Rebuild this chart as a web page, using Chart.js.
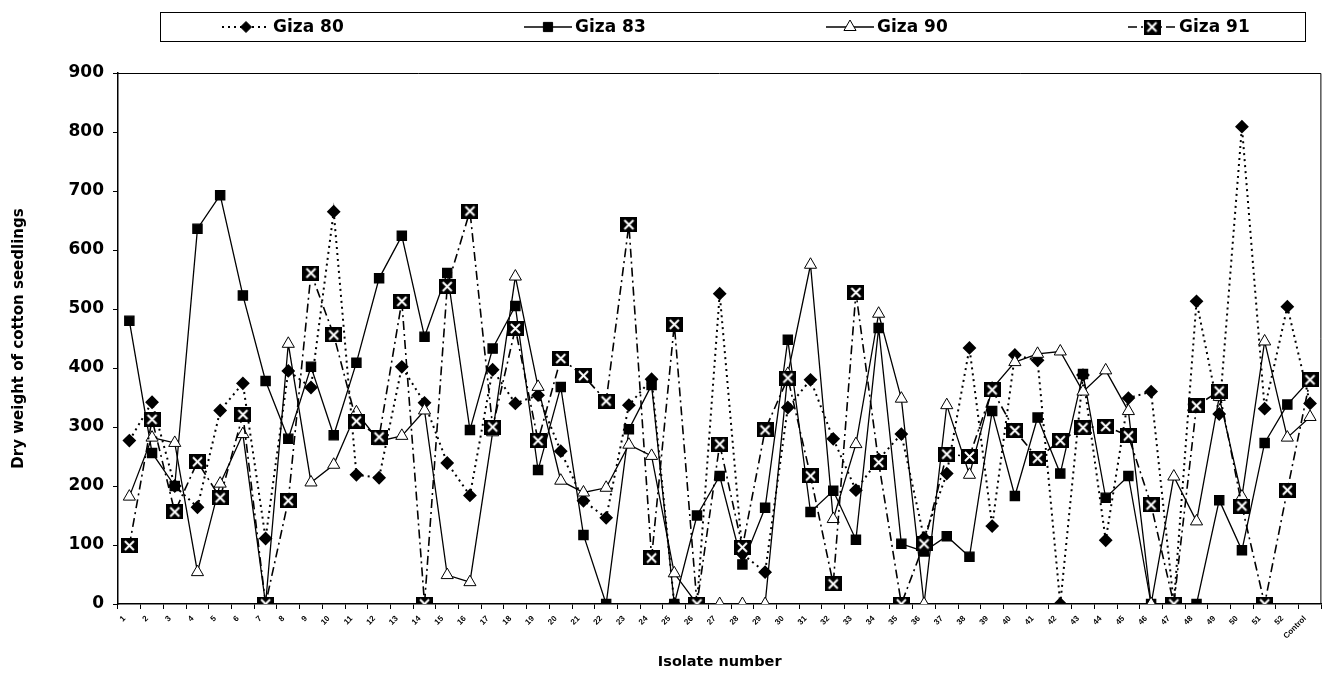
<!DOCTYPE html>
<html>
<head>
<meta charset="utf-8">
<title>Dry weight of cotton seedlings</title>
<script src="https://cdn.jsdelivr.net/npm/chart.js@4.4.1/dist/chart.umd.min.js"></script>
<style>
  body { margin: 0; background: #fff; }
  #wrap { width: 1331px; height: 673px; }
</style>
</head>
<body>
<div id="wrap"><canvas id="myChart"></canvas></div>
<script>
// isolate numbers on the x axis
var isolates = ['1','2','3','4','5','6','7','8','9','10','11','12','13','14','15','16','17','18','19','20',
  '21','22','23','24','25','26','27','28','29','30','31','32','33','34','35','36','37','38','39','40',
  '41','42','43','44','45','46','47','48','49','50','51','52','Control'];

var giza80 = [277,342,200,164,328,374,111,395,367,665,219,214,402,341,239,184,397,340,354,259,
  175,146,337,381,0,0,526,85,54,333,380,280,193,245,288,112,221,434,132,422,
  413,0,388,108,349,360,0,513,322,809,331,504,340];

var giza83 = [480,256,200,636,693,523,378,280,402,286,409,552,624,453,561,295,433,505,227,368,
  117,0,296,371,0,150,217,67,163,448,156,192,109,468,102,89,115,80,327,183,
  316,221,390,180,217,0,0,0,176,91,273,338,380];

var giza90 = [182,282,273,54,204,288,0,441,206,236,325,276,285,328,49,37,291,555,368,209,
  189,197,270,251,52,0,0,0,0,390,575,144,271,492,348,0,337,219,365,410,
  424,428,360,396,327,0,216,140,351,182,445,282,317];

var giza91 = [99,313,156,241,180,321,0,175,561,456,310,283,513,0,538,666,300,467,277,416,
  387,344,643,78,474,0,271,96,295,383,217,34,528,240,0,102,254,250,363,294,
  247,277,299,301,285,168,0,336,361,166,0,193,380];

var yTicks = [0,100,200,300,400,500,600,700,800,900];

var FONT = '"DejaVu Sans", sans-serif';
var SMALL = '"Liberation Sans", Arial, sans-serif';

// black box with a white cross (Giza 91 marker)
function crossBox() {
  var c = document.createElement('canvas');
  c.width = 17; c.height = 15;
  var g = c.getContext('2d');
  g.fillStyle = '#000';
  g.fillRect(0, 0, 17, 15);
  g.strokeStyle = '#fff';
  g.lineWidth = 2;
  g.beginPath();
  g.moveTo(4, 3); g.lineTo(13, 12);
  g.moveTo(13, 3); g.lineTo(4, 12);
  g.stroke();
  return c;
}
var xBox = crossBox();

function drawMarker(ctx, ds, x, y) {
  var r = ds.pointRadius;
  ctx.fillStyle = ds.pointBackgroundColor;
  ctx.strokeStyle = '#000';
  ctx.lineWidth = 1;
  ctx.beginPath();
  if (ds.pointStyle === 'rectRot') {
    ctx.moveTo(x, y - r); ctx.lineTo(x + r, y); ctx.lineTo(x, y + r); ctx.lineTo(x - r, y);
  } else if (ds.pointStyle === 'rect') {
    var s = r * Math.SQRT1_2;
    ctx.rect(x - s, y - s, 2 * s, 2 * s);
  } else if (ds.pointStyle === 'triangle') {
    var h = r * 0.866;
    ctx.moveTo(x, y - r); ctx.lineTo(x + h, y + r / 2); ctx.lineTo(x - h, y + r / 2);
  } else {
    ctx.drawImage(ds.pointStyle, x - 8.5, y - 7.5);
    return;
  }
  ctx.closePath();
  ctx.fill();
  ctx.stroke();
}

// legend box on top and the frame round the plot
var legendBox = {
  id: 'legendBox',
  afterDraw: function(chart) {
    var ctx = chart.ctx;
    var a = chart.chartArea;
    ctx.save();
    ctx.strokeStyle = '#000';
    ctx.lineWidth = 1;
    ctx.beginPath();
    ctx.moveTo(a.left, a.top + 0.5); ctx.lineTo(a.right - 0.5, a.top + 0.5); ctx.lineTo(a.right - 0.5, a.bottom);
    ctx.stroke();

    ctx.strokeRect(160.5, 12.5, 1145, 29);
    chart.data.datasets.forEach(function(ds, i) {
      var x0 = 222 + i * 302, y0 = 27;
      ctx.strokeStyle = '#000';
      ctx.lineWidth = ds.borderWidth;
      ctx.setLineDash(ds.borderDash || []);
      ctx.beginPath();
      ctx.moveTo(x0, y0); ctx.lineTo(x0 + 48, y0);
      ctx.stroke();
      ctx.setLineDash([]);
      drawMarker(ctx, ds, x0 + 24, y0);
      ctx.fillStyle = '#000';
      ctx.font = 'bold 17px ' + FONT;
      ctx.textBaseline = 'middle';
      ctx.textAlign = 'left';
      ctx.fillText(ds.label, x0 + 51, y0 + 1);
    });
    ctx.restore();
  }
};

var ctx = document.getElementById('myChart').getContext('2d');
var myChart = new Chart(ctx, {
  type: 'line',
  data: {
    labels: isolates,
    datasets: [{
      label: 'Giza 80',
      data: giza80,
      borderColor: '#000',
      borderWidth: 2,
      borderDash: [2, 4],
      pointStyle: 'rectRot',
      pointRadius: 5.5,
      pointBackgroundColor: '#000',
      pointBorderColor: '#000',
      order: 3
    }, {
      label: 'Giza 83',
      data: giza83,
      borderColor: '#000',
      borderWidth: 1.3,
      pointStyle: 'rect',
      pointRadius: 6.5,
      pointBackgroundColor: '#000',
      pointBorderColor: '#000',
      order: 2
    }, {
      label: 'Giza 90',
      data: giza90,
      borderColor: '#000',
      borderWidth: 1.3,
      pointStyle: 'triangle',
      pointRadius: 7,
      pointBackgroundColor: '#fff',
      pointBorderColor: '#000',
      pointBorderWidth: 1,
      order: 1
    }, {
      label: 'Giza 91',
      data: giza91,
      borderColor: '#000',
      borderWidth: 1.6,
      borderDash: [9, 4, 2, 4],
      pointStyle: xBox,
      pointRadius: 8,
      pointBackgroundColor: '#000',
      pointBorderColor: '#000',
      order: 0
    }]
  },
  options: {
    responsive: true,
    maintainAspectRatio: false,
    animation: false,
    layout: { padding: { left: 10, right: 6, top: 73, bottom: 2 } },
    plugins: {
      legend: { display: false },
      tooltip: { enabled: false }
    },
    scales: {
      x: {
        offset: true,
        grid: { display: true, offset: true, drawOnChartArea: false, color: '#000', tickLength: 5 },
        border: { color: '#000', width: 1.5 },
        ticks: {
          autoSkip: false, maxRotation: 45, minRotation: 45,
          color: '#000', padding: 5, labelOffset: -5,
          font: { family: SMALL, size: 8, weight: 'bold' }
        },
        title: {
          display: true, text: 'Isolate number', color: '#000', padding: 0,
          font: { family: FONT, size: 14.5, weight: 'bold' }
        },
        afterFit: function(scale) { scale.height = 67; }
      },
      y: {
        min: 0, max: 900,
        afterBuildTicks: function(scale) {
          scale.ticks = yTicks.map(function(v) { return { value: v }; });
        },
        grid: { display: true, drawOnChartArea: false, color: '#000', tickLength: 5 },
        border: { color: '#000', width: 1.5 },
        ticks: {
          color: '#000', padding: 9,
          font: { family: FONT, size: 17, weight: 'bold' }
        },
        title: {
          display: true, text: 'Dry weight of cotton seedlings', color: '#000', padding: 0,
          font: { family: FONT, size: 15, weight: 'bold' }
        },
        afterFit: function(scale) { scale.width = 108; }
      }
    }
  },
  plugins: [legendBox]
});
</script>
</body>
</html>
